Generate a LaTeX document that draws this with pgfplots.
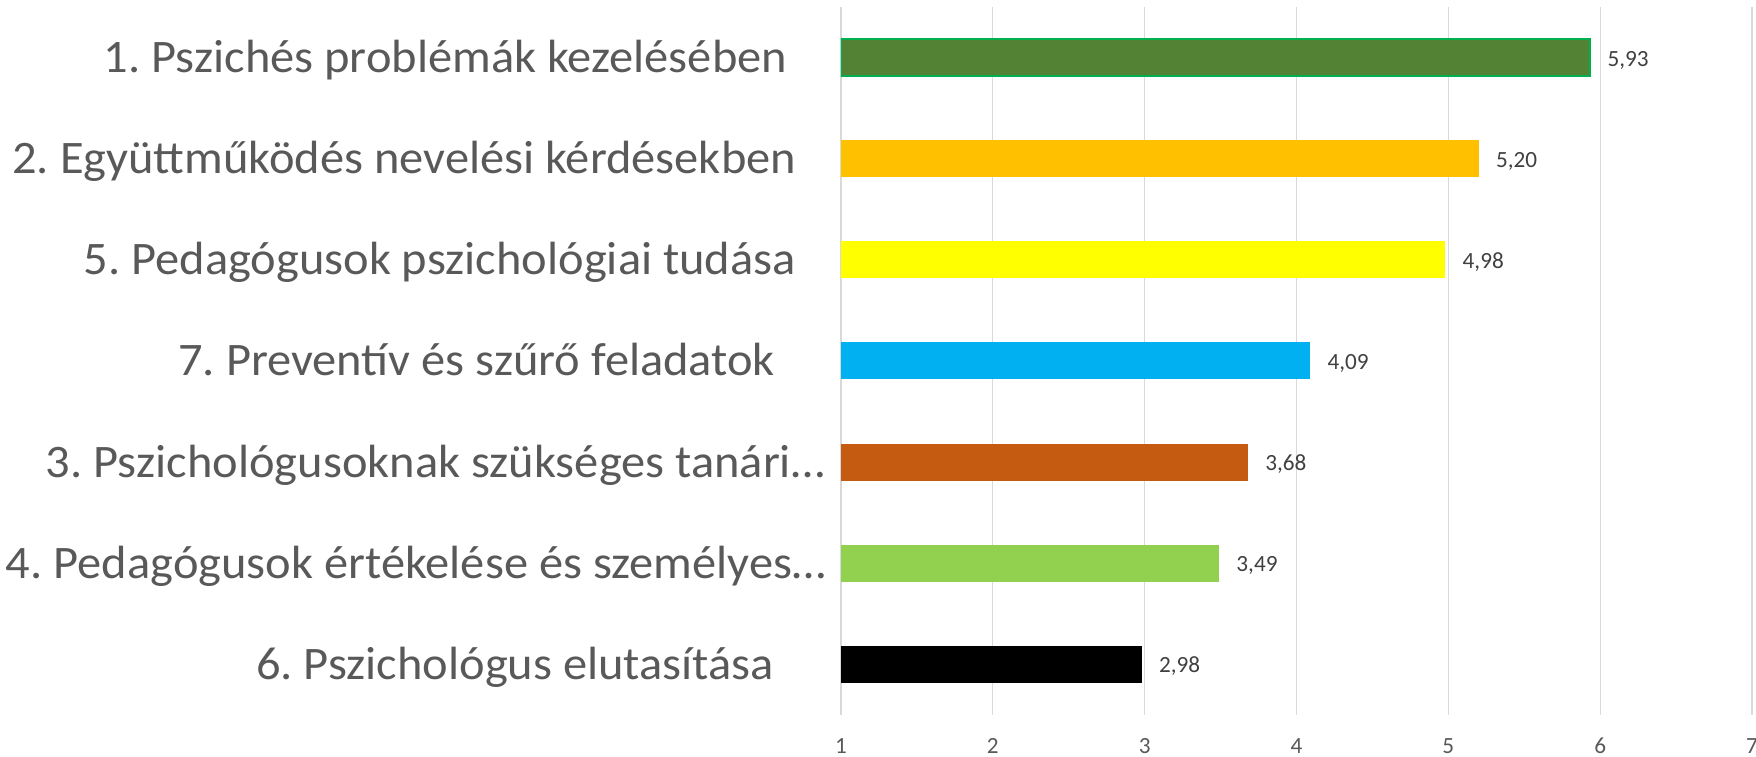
\documentclass[border=0pt]{standalone}
\usepackage{pgfplots}
\pgfplotsset{compat=1.18}
\usepackage{fontspec}
\setmainfont{Carlito}
\newfontfamily\catfont[FakeStretch=1.04]{Carlito}
\frenchspacing
\definecolor{txt}{HTML}{595959}
\definecolor{dtxt}{HTML}{404040}
\definecolor{gridc}{HTML}{D9D9D9}
\definecolor{c1}{HTML}{548235}
\definecolor{c1e}{HTML}{00B050}
\definecolor{c2}{HTML}{FFC000}
\definecolor{c3}{HTML}{FFFF00}
\definecolor{c4}{HTML}{00B0F0}
\definecolor{c5}{HTML}{C55A11}
\definecolor{c6}{HTML}{92D050}
\definecolor{c7}{HTML}{000000}
\begin{document}
\frenchspacing
\begin{tikzpicture}
\begin{axis}[
  scale only axis,
  width=455.5bp, height=354bp,
  xmin=1, xmax=7, ymin=-0.5, ymax=6.5,
  xtick={1,2,3,4,5,6,7},
  ytick={0,1,2,3,4,5,6},
  yticklabels={
    {\frenchspacing 6. Pszichológus elutasítása\hspace*{25.8bp}},
    {\frenchspacing 4. Pedagógusok értékelése és személyes…},
    {\frenchspacing 3. Pszichológusoknak szükséges tanári…\hspace*{0.5bp}},
    {\frenchspacing 7. Preventív és szűrő feladatok\hspace*{25.3bp}},
    {\frenchspacing 5. Pedagógusok pszichológiai tudása\hspace*{14.8bp}},
    {\frenchspacing 2. Együttműködés nevelési kérdésekben\hspace*{14.8bp}},
    {\frenchspacing 1. Pszichés problémák kezelésében\hspace*{19.3bp}}},
  major tick length=0pt,
  axis line style={draw=none},
  xmajorgrids,
  grid style={gridc, line width=0.65bp},
  /pgf/number format/assume math mode=true,
  xticklabel style={font=\fontsize{11.6bp}{13bp}\selectfont, text=txt, anchor=base, inner sep=0pt, yshift=-19.5bp},
  yticklabel style={font=\catfont\fontsize{23.3bp}{26bp}\selectfont, text=txt, anchor=base east, inner sep=0pt, xshift=-7.5bp, yshift=-7.5bp},
  xbar, bar width=18.5bp, bar shift=0pt,
  nodes near coords,
  nodes near coords style={font=\fontsize{11.6bp}{13bp}\selectfont, text=dtxt, anchor=base west, inner sep=0pt, xshift=8.5bp, yshift=-4.25bp,
    /pgf/number format/.cd, fixed, fixed zerofill, precision=2, use comma, assume math mode=true},
]
\addplot[fill=c1, draw=c1e, line width=1bp] coordinates {(5.93,6)};
\addplot[fill=c2, draw=none] coordinates {(5.20,5)};
\addplot[fill=c3, draw=none] coordinates {(4.98,4)};
\addplot[fill=c4, draw=none] coordinates {(4.09,3)};
\addplot[fill=c5, draw=none] coordinates {(3.68,2)};
\addplot[fill=c6, draw=none] coordinates {(3.49,1)};
\addplot[fill=c7, draw=none] coordinates {(2.98,0)};
\end{axis}
\pgfresetboundingbox
\path (current axis.south west) ++(-420.5bp,-21bp) coordinate (bl);
\path (current axis.north east) ++(2bp,3.5bp) coordinate (tr);
\path[use as bounding box] (bl) rectangle (tr);
\end{tikzpicture}
\end{document}
